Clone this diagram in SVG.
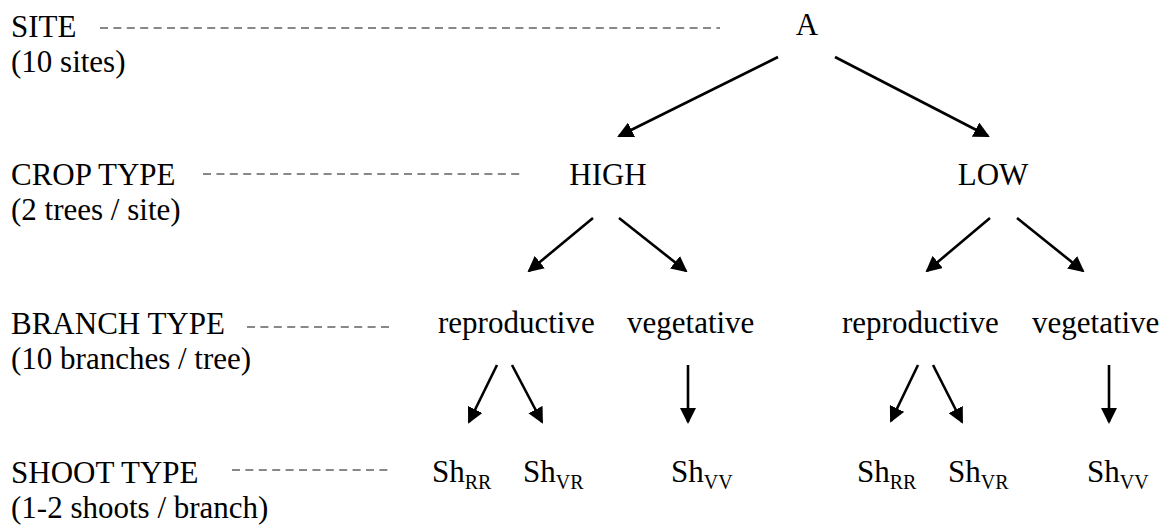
<svg xmlns="http://www.w3.org/2000/svg" width="1168" height="528" viewBox="0 0 1168 528">
<style>
text{font-family:"Liberation Serif","Times New Roman",serif;font-size:31px;fill:#000}
.sub{font-size:20px}
.dash{stroke:#888;stroke-width:2;stroke-dasharray:8 5.4;fill:none}
.arr{stroke:#000;stroke-width:2.6;fill:none;marker-end:url(#ah)}
</style>
<defs>
<marker id="ah" markerUnits="userSpaceOnUse" markerWidth="16" markerHeight="16" refX="14" refY="8" orient="auto">
<path d="M0,0 L16,8 L0,16 z" fill="#000"/>
</marker>
</defs>
<rect width="1168" height="528" fill="#fff"/>
<g id="levels">
<text x="11" y="37">SITE</text>
<text x="11" y="72">(10 sites)</text>
<text x="11" y="185">CROP TYPE</text>
<text x="11" y="220">(2 trees / site)</text>
<text x="11" y="334">BRANCH TYPE</text>
<text x="11" y="369">(10 branches / tree)</text>
<text x="11" y="483">SHOOT TYPE</text>
<text x="11" y="518">(1-2 shoots / branch)</text>
<line class="dash" x1="100" y1="28" x2="720" y2="28"/>
<line class="dash" x1="203" y1="174" x2="523" y2="174"/>
<line class="dash" x1="247" y1="327" x2="390" y2="327"/>
<line class="dash" x1="232" y1="470" x2="390" y2="470"/>
</g>
<g id="nA"><text x="807" y="35" text-anchor="middle">A</text></g>
<g id="nHIGH"><text x="608" y="185" text-anchor="middle">HIGH</text></g>
<g id="nLOW"><text x="993" y="185" text-anchor="middle">LOW</text></g>
<g id="nRepL"><text x="438" y="333">reproductive</text></g>
<g id="nVegL"><text x="627" y="333">vegetative</text></g>
<g id="nRepR"><text x="842" y="333">reproductive</text></g>
<g id="nVegR"><text x="1032" y="333">vegetative</text></g>
<g id="nShRRL"><text x="432" y="482">Sh<tspan class="sub" dy="7">RR</tspan></text></g>
<g id="nShVRL"><text x="523" y="482">Sh<tspan class="sub" dy="7">VR</tspan></text></g>
<g id="nShVVL"><text x="671" y="482">Sh<tspan class="sub" dy="7">VV</tspan></text></g>
<g id="nShRRR"><text x="857" y="482">Sh<tspan class="sub" dy="7">RR</tspan></text></g>
<g id="nShVRR"><text x="948" y="482">Sh<tspan class="sub" dy="7">VR</tspan></text></g>
<g id="nShVVR"><text x="1087" y="482">Sh<tspan class="sub" dy="7">VV</tspan></text></g>
<g id="connectors">
<line class="arr" x1="778" y1="57" x2="619" y2="136"/>
<line class="arr" x1="835" y1="57" x2="988" y2="136"/>
<line class="arr" x1="593" y1="218" x2="529" y2="271"/>
<line class="arr" x1="619" y1="218" x2="686" y2="271"/>
<line class="arr" x1="990" y1="218" x2="927" y2="271"/>
<line class="arr" x1="1017" y1="218" x2="1083" y2="271"/>
<line class="arr" x1="497" y1="365" x2="469" y2="422"/>
<line class="arr" x1="512" y1="365" x2="542" y2="422"/>
<line class="arr" x1="688" y1="365" x2="688" y2="422"/>
<line class="arr" x1="918" y1="365" x2="891" y2="421"/>
<line class="arr" x1="933" y1="365" x2="962" y2="422"/>
<line class="arr" x1="1109" y1="365" x2="1109" y2="422"/>
</g>
</svg>
